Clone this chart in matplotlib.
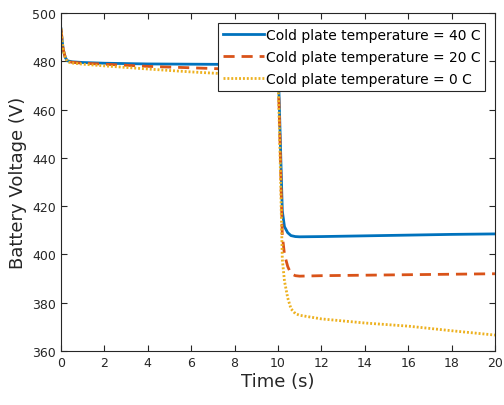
import numpy as np
import matplotlib
matplotlib.use("Agg")
from matplotlib import pyplot as plt

# values (time in s, voltage in V)
time = [0, 0.05, 0.1, 0.2, 0.3, 0.5, 1, 2, 4, 6, 8, 10,
        10.05, 10.1, 10.2, 10.3, 10.45, 10.6, 10.8, 11, 12, 14, 16, 18, 20]
v_40 = [493.5, 489, 485, 481.5, 480.2, 479.8, 479.5, 479.2, 478.9, 478.8, 478.7, 478.5,
        466, 450, 418, 411.5, 409, 407.8, 407.4, 407.3, 407.4, 407.7, 408.0, 408.3, 408.5]
v_20 = [493.5, 489, 485, 481.5, 480.0, 479.6, 479.2, 478.8, 477.9, 477.3, 476.7, 476.0,
        462, 445, 408, 400, 395, 392.0, 391.2, 391.0, 391.2, 391.4, 391.6, 391.8, 392.0]
v_0 = [493.5, 489, 485, 481.5, 479.8, 479.3, 478.8, 478.1, 476.8, 475.6, 474.6, 473.5,
       458, 440, 398, 389, 382, 377.5, 375.5, 374.8, 373.3, 371.6, 370.3, 368.4, 366.6]

labels = ["Cold plate temperature = 40 C",
          "Cold plate temperature = 20 C",
          "Cold plate temperature = 0 C"]

fig = plt.figure(figsize=(5.04, 4.06), dpi=100)
ax = fig.add_axes([0.121, 0.133, 0.861, 0.8325])

ax.plot(time, v_40, color="#0072BD", lw=2.0, ls="-", label=labels[0])
ax.plot(time, v_20, color="#D95319", lw=2.0, ls=(0, (4, 2.5)), label=labels[1])
ax.plot(time, v_0, color="#EDB120", lw=2.0, ls=(0, (0.7, 0.7)), label=labels[2])

ax.set_xlim(0, 20)
ax.set_ylim(360, 500)
ax.set_xticks(np.arange(0, 21, 2))
ax.set_yticks(np.arange(360, 501, 20))

gray = "#262626"
for s in ax.spines.values():
    s.set_color(gray)
    s.set_linewidth(0.8)
ax.tick_params(direction="in", top=True, right=True, length=4, width=0.8,
               colors=gray, labelsize=9, labelcolor=gray)
ax.set_xlabel("Time (s)", fontsize=13, color=gray, labelpad=2)
ax.set_ylabel("Battery Voltage (V)", fontsize=13, color=gray, labelpad=4)

leg = ax.legend(loc="upper right", fontsize=10, frameon=True, fancybox=False,
                borderpad=0.35, labelspacing=0.6, handlelength=2.9, handletextpad=0.15,
                borderaxespad=0.7, edgecolor=gray, framealpha=1)
leg.get_frame().set_linewidth(0.8)

fig.savefig("out.png", dpi=100)
